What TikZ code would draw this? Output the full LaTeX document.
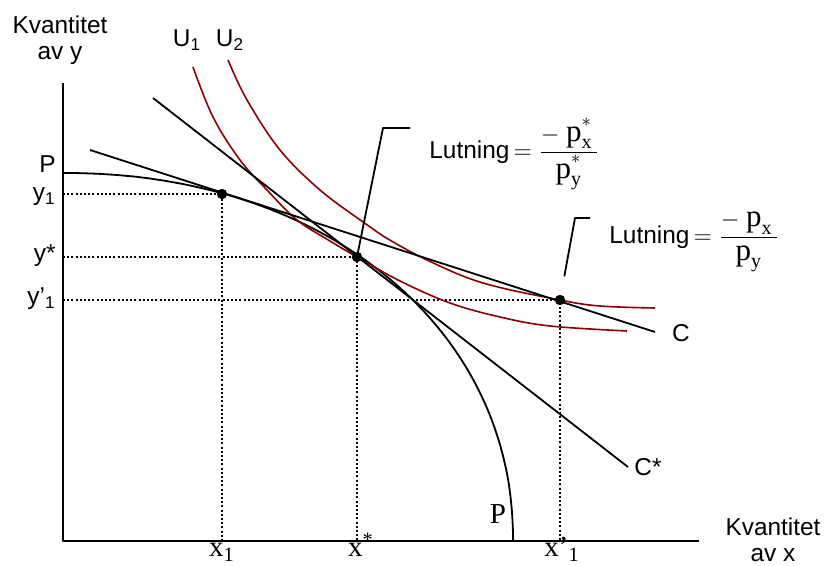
\documentclass[tikz,border=0pt]{standalone}
\usepackage{amsmath}
\usepackage{fontspec}
\setmainfont{Liberation Sans}
\newfontfamily\tms{Liberation Serif}
\usetikzlibrary{positioning,calc}

\definecolor{icred}{RGB}{140,0,0}
\newcommand{\tp}{\text{\fontsize{15.5}{15.5}\selectfont\tms p}}
\newcommand{\tsub}[1]{\text{\fontsize{10}{10}\selectfont\tms #1}}
\newcommand{\hstar}{\raisebox{3pt}{$\scriptstyle *$}}

\tikzset{
  lbl/.style={inner sep=0pt, font=\fontsize{12.2}{12.8}\selectfont},
  tlbl/.style={inner sep=0pt, font=\fontsize{14.5}{15}\selectfont\tms},
  guide/.style={line width=1.1pt, dash pattern=on 1pt off 1.1pt},
  indiff/.style={icred, line width=0.8pt},
  budget/.style={line width=0.9pt},
  dot/.style={circle, fill, inner sep=0pt, minimum size=5.2pt}
}

\begin{document}
\begin{tikzpicture}[x=0.5pt, y=-0.5pt, line join=round]
  \useasboundingbox (0,0) rectangle (826,566);

  % axes
  \coordinate (O) at (63,541);
  \coordinate (ytop) at (63,83);
  \coordinate (xend) at (699,541);

  % points
  \coordinate (A) at (222,194);
  \coordinate (E) at (357,257);
  \coordinate (B) at (560,300);

  % dotted guides
  \draw[guide] (A -| O) -- (A) -- (A |- O);
  \draw[guide] (E -| O) -- (E) -- (E |- O);
  \draw[guide] (B -| O) -- (B) -- (B |- O);

  % production possibility curve
  \draw[line width=0.9pt] plot[domain=0.01:89.99, samples=90, variable=\t]
    ({63+450*pow(cos(\t),0.952)},{541-368*pow(sin(\t),0.952)});

  % indifference curves
  \draw[indiff] plot[smooth, tension=0.6] coordinates {(193,67) (213,117) (240,160) (267,190)
    (297,220) (330,241) (357,257) (400,281) (450,303) (500,317) (550,326) (627,331)};
  \draw[indiff] plot[smooth, tension=0.6] coordinates {(228,60) (247,100) (280,150) (320,190)
    (363,222) (383,236) (427,260) (483,283) (560,300) (600,306) (655,308)};

  % price lines
  \coordinate (c1) at (90,150);
  \coordinate (c2) at (655,332);
  \coordinate (cs1) at (153,98);
  \coordinate (cs2) at (628,467);
  \draw[budget] (c1) -- (c2);
  \draw[budget] (cs1) -- (cs2);

  % axes on top
  \draw[line width=1pt] (ytop) -- (O) -- (xend);

  \node[dot] (pA) at (A) {};
  \node[dot] (pE) at (E) {};
  \node[dot] (pB) at (B) {};

  % slope labels
  \coordinate (k1) at (383,128);
  \coordinate (k1e) at (410,128);
  \coordinate (k2) at (575,218);
  \coordinate (k2e) at (590,218);
  \draw[line width=0.9pt] (pE.center) -- (k1) -- (k1e);
  \draw[line width=0.9pt, shorten <=12pt] (pB.center) -- (k2) -- (k2e);
  \node[lbl, anchor=west] (s1) at (429,154)
    {Lutning\,$=\dfrac{-\;\tp^{\hstar}_{\tsub{x}}\,}{\tp^{\hstar}_{\tsub{y}}}$};
  \node[lbl, anchor=west] (s2) at (609,242)
    {Lutning\,$=\dfrac{-\;\tp_{\tsub{x}}\,}{\tp_{\tsub{y}}}$};

  % axis titles
  \node[lbl, align=center] (ty) at (60,40) {Kvantitet\\av y};
  \node[lbl, align=center] (tx) at (773,540) {Kvantitet\\av x};

  % curve labels
  \node[lbl] (u1) at (187,40) {U\textsubscript{1}};
  \node[lbl] (u2) at (230,40) {U\textsubscript{2}};
  \node[lbl, anchor=east] (pl) at (56,164) {P};
  \node[tlbl] (pb) at (498,514) {P};
  \node[lbl] (cl) at (681,333) {C};
  \node[lbl] (csl) at (648,467) {C*};

  % axis values
  \node[lbl, anchor=east] (y1) at (56,197) {y\textsubscript{1}};
  \node[lbl, anchor=east] (ys) at (56,256) {y*};
  \node[lbl, anchor=east] (y1p) at (56,299) {y’\textsubscript{1}};
  \node[tlbl, anchor=base] (x1) at (222,557) {x\textsubscript{1}};
  \node[tlbl, anchor=base] (xs) at (361,557) {x\textsuperscript{*}};
  \node[tlbl, anchor=base] (x1p) at (562,557) {x’\textsubscript{1}};
\end{tikzpicture}
\end{document}
